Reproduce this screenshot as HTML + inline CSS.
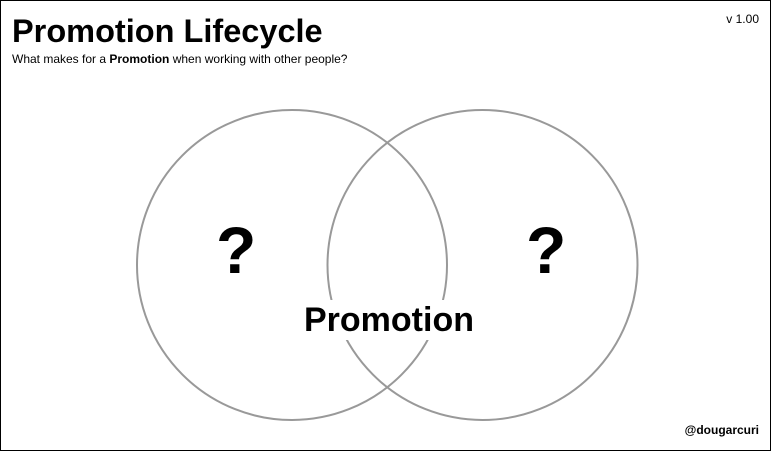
<!DOCTYPE html>
<html><head><style>
html,body{margin:0;padding:0;background:#fff}
body{width:771px;height:451px;position:relative;overflow:hidden;font-family:"Liberation Sans",Arial,sans-serif}
.frame{position:absolute;left:0;top:0;width:769px;height:449px;border:1px solid #000}
.t{position:absolute;color:#000;white-space:nowrap}
</style></head><body>
<div class="frame"></div>
<svg width="771" height="451" style="position:absolute;left:0;top:0">
<circle cx="292" cy="265" r="155" fill="none" stroke="#999" stroke-width="2"/>
<circle cx="482.5" cy="265" r="155" fill="none" stroke="#999" stroke-width="2"/>
</svg>
<div class="t" style="left:12px;top:13px;font-size:32.5px;font-weight:bold">Promotion Lifecycle</div>
<div class="t" style="left:12px;top:52px;font-size:12px">What makes for a <b>Promotion</b> when working with other people?</div>
<div class="t" style="right:12px;top:12px;font-size:12px">v 1.00</div>
<div class="t" style="left:216px;top:212px;font-size:66px;font-weight:bold;line-height:76px">?</div>
<div class="t" style="left:526px;top:212px;font-size:66px;font-weight:bold;line-height:76px">?</div>
<div class="t" style="left:304px;top:300px;font-size:34px;font-weight:bold;background:#fff;line-height:40px">Promotion</div>
<div class="t" style="right:12px;top:423px;font-size:12px;font-weight:bold">@dougarcuri</div>
</body></html>
